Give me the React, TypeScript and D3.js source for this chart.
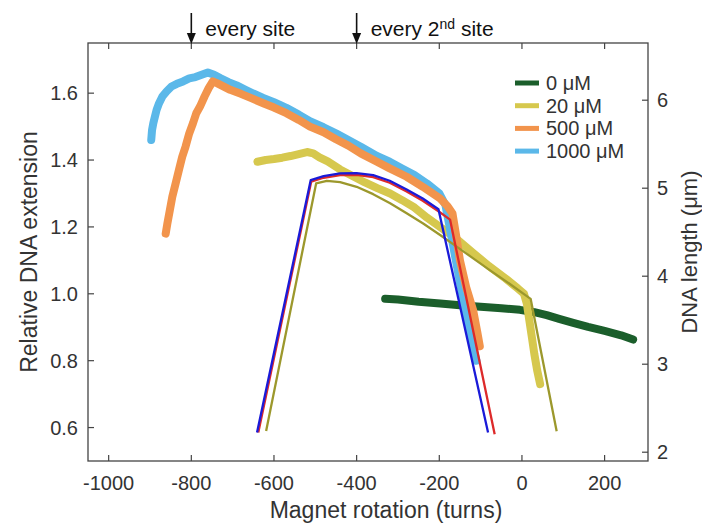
import React from "react";
import * as d3 from "d3";

type Pt = [number, number];

const xTicks = [-1000, -800, -600, -400, -200, 0, 200];
const yTicks = [0.6, 0.8, 1.0, 1.2, 1.4, 1.6];
const yRightTicks = [2, 3, 4, 5, 6];
const lengthPerUnit = 3.8;

const series0uM: Pt[] = [
  [-331, 0.985], [-300, 0.983], [-250, 0.976], [-198, 0.971], [-150, 0.966], [-100, 0.961],
  [-50, 0.957], [-5, 0.952], [30, 0.945], [60, 0.936], [90, 0.925], [124, 0.913],
  [160, 0.901], [200, 0.889], [240, 0.876], [269, 0.863],
];
const series20uM: Pt[] = [
  [-640, 1.395], [-620, 1.4], [-600, 1.403], [-580, 1.407], [-560, 1.412], [-540, 1.418],
  [-520, 1.424], [-505, 1.42], [-490, 1.408], [-470, 1.396], [-440, 1.372], [-410, 1.352],
  [-380, 1.333], [-350, 1.316], [-319, 1.3], [-290, 1.28], [-260, 1.258], [-230, 1.228],
  [-198, 1.2], [-160, 1.166], [-118, 1.122], [-80, 1.083], [-40, 1.046], [-10, 1.016],
  [5, 1.0], [12, 0.97], [18, 0.92], [24, 0.87], [30, 0.82], [37, 0.77], [44, 0.73],
];
const series500uM: Pt[] = [
  [-862, 1.18], [-858, 1.21], [-852, 1.25], [-846, 1.29], [-838, 1.33], [-830, 1.37],
  [-822, 1.41], [-814, 1.44], [-805, 1.48], [-796, 1.51], [-788, 1.54], [-779, 1.56],
  [-768, 1.59], [-758, 1.615], [-748, 1.635], [-738, 1.63], [-725, 1.622], [-706, 1.61],
  [-680, 1.598], [-655, 1.585], [-626, 1.57], [-600, 1.557], [-570, 1.54], [-540, 1.52],
  [-513, 1.5], [-480, 1.483], [-450, 1.462], [-420, 1.443], [-390, 1.42], [-351, 1.395],
  [-320, 1.375], [-279, 1.35], [-240, 1.32], [-198, 1.285], [-180, 1.262], [-168, 1.24],
  [-160, 1.18], [-150, 1.1], [-135, 1.02], [-118, 0.95], [-108, 0.885], [-102, 0.843],
];
const series1000uM: Pt[] = [
  [-897, 1.46], [-895, 1.49], [-892, 1.51], [-888, 1.53], [-884, 1.55], [-878, 1.57],
  [-870, 1.59], [-860, 1.605], [-848, 1.62], [-835, 1.628], [-820, 1.635], [-805, 1.644],
  [-790, 1.648], [-775, 1.655], [-760, 1.662], [-745, 1.655], [-730, 1.645], [-710, 1.633],
  [-690, 1.623], [-670, 1.611], [-650, 1.599], [-626, 1.586], [-600, 1.573], [-570, 1.556],
  [-540, 1.536], [-513, 1.516], [-480, 1.498], [-450, 1.48], [-420, 1.46], [-390, 1.44],
  [-351, 1.412], [-320, 1.395], [-290, 1.375], [-260, 1.355], [-230, 1.33], [-200, 1.3],
  [-185, 1.265], [-172, 1.18], [-160, 1.1], [-148, 1.02], [-136, 0.94], [-122, 0.86],
  [-110, 0.8],
];
const fitBlue: Pt[] = [
  [-641, 0.585], [-511, 1.34], [-480, 1.352], [-440, 1.36], [-400, 1.361], [-360, 1.355],
  [-320, 1.338], [-279, 1.312], [-240, 1.285], [-202, 1.253], [-82, 0.585],
];
const fitRed: Pt[] = [
  [-638, 0.585], [-510, 1.335], [-480, 1.347], [-440, 1.355], [-400, 1.356], [-360, 1.349],
  [-320, 1.332], [-279, 1.306], [-240, 1.278], [-202, 1.247], [-174, 1.222], [-66, 0.58],
];
const fitOlive: Pt[] = [
  [-619, 0.59], [-498, 1.33], [-472, 1.338], [-440, 1.334], [-400, 1.32], [-360, 1.298],
  [-319, 1.271], [-279, 1.241], [-239, 1.21], [-198, 1.176], [-158, 1.141], [-118, 1.106],
  [-77, 1.07], [-30, 1.03], [21, 0.985], [84, 0.589],
];

const legendLabels = ["0 μM", "20 μM", "500 μM", "1000 μM"];
const legendColors = ["#1b5e2b", "#d6c84e", "#f2944c", "#5bb8e9"];

const W = 702;
const H = 524;
const FONT = "'Liberation Sans', Arial, sans-serif";

export default function App() {
  const x = d3.scaleLinear().domain([-1050, 305]).range([88, 648]);
  const y = d3.scaleLinear().domain([0.5, 1.75]).range([461, 43]);
  const yR = d3.scaleLinear().domain([0.5 * lengthPerUnit, 1.75 * lengthPerUnit]).range([461, 43]);
  const line = d3.line<Pt>().x((d) => x(d[0])).y((d) => y(d[1]));
  const [x0, x1] = x.range();
  const [yb, yt] = y.range();
  const axisColor = "#444";
  const textColor = "#333";
  const tickLen = 6;

  const dataSeries = [
    { pts: series0uM, color: legendColors[0] },
    { pts: series20uM, color: legendColors[1] },
    { pts: series1000uM, color: legendColors[3] },
    { pts: series500uM, color: legendColors[2] },
  ];
  const fits = [
    { pts: fitOlive, color: "#9c982c" },
    { pts: fitRed, color: "#dd2a2a" },
    { pts: fitBlue, color: "#1a1ad8" },
  ];

  return (
    <div style={{ position: "absolute", left: 0, top: 0 }}>
      <svg width={W} height={H} style={{ display: "block", background: "#fff" }} fontFamily={FONT}>
        {dataSeries.map((s, i) => (
          <path key={"d" + i} d={line(s.pts) ?? ""} fill="none" stroke={s.color} strokeWidth={8}
            strokeLinecap="round" strokeLinejoin="round" />
        ))}
        {fits.map((s, i) => (
          <path key={"f" + i} d={line(s.pts) ?? ""} fill="none" stroke={s.color} strokeWidth={2.3}
            strokeLinejoin="round" />
        ))}
        {/* frame */}
        <rect x={x0} y={yt} width={x1 - x0} height={yb - yt} fill="none" stroke={axisColor} strokeWidth={1.3} />
        {xTicks.map((t) => (
          <g key={"xt" + t}>
            <line x1={x(t)} x2={x(t)} y1={yb} y2={yb - tickLen} stroke={axisColor} strokeWidth={1.2} />
            <line x1={x(t)} x2={x(t)} y1={yt} y2={yt + tickLen} stroke={axisColor} strokeWidth={1.2} />
            <text x={x(t)} y={yb + 29} textAnchor="middle" fontSize={20} fill={textColor}>{t}</text>
          </g>
        ))}
        {yTicks.map((t) => (
          <g key={"yt" + t}>
            <line x1={x0} x2={x0 + tickLen} y1={y(t)} y2={y(t)} stroke={axisColor} strokeWidth={1.2} />
            <text x={x0 - 10} y={y(t) + 7} textAnchor="end" fontSize={20} fill={textColor}>{t.toFixed(1)}</text>
          </g>
        ))}
        {yRightTicks.map((t) => (
          <g key={"yr" + t}>
            <line x1={x1} x2={x1 - tickLen} y1={yR(t)} y2={yR(t)} stroke={axisColor} strokeWidth={1.2} />
            <text x={x1 + 9} y={yR(t) + 7} textAnchor="start" fontSize={20} fill={textColor}>{t}</text>
          </g>
        ))}
        <text x={386} y={518} textAnchor="middle" fontSize={23} fill={textColor}>Magnet rotation (turns)</text>
        <text transform={`translate(37,${(yt + yb) / 2 + 0}) rotate(-90)`} textAnchor="middle" fontSize={23} fill={textColor}>Relative DNA extension</text>
        <text transform={`translate(697,${(yt + yb) / 2}) rotate(-90)`} textAnchor="middle" fontSize={22} fill={textColor}>DNA length (μm)</text>

        {/* legend */}
        {legendLabels.map((l, i) => (
          <g key={"lg" + i}>
            <line x1={515} x2={539} y1={83 + i * 22.7} y2={83 + i * 22.7} stroke={legendColors[i]} strokeWidth={5} />
            <text x={546} y={83 + i * 22.7 + 7} fontSize={20} fill={textColor}>{l}</text>
          </g>
        ))}

        {/* annotations */}
        {[{ t: -800 }, { t: -400 }].map((a, i) => (
          <g key={"an" + i}>
            <line x1={x(a.t)} x2={x(a.t)} y1={13} y2={38} stroke="#111" strokeWidth={1.6} />
            <path d={`M${x(a.t) - 4.5},${33} L${x(a.t)},${44} L${x(a.t) + 4.5},${33} Z`} fill="#111" />
            <text x={x(a.t) + 14} y={36} fontSize={21} fill="#111">
              {i === 0 ? "every site" : (<>every 2<tspan dy={-7} fontSize={14}>nd</tspan><tspan dy={7}> site</tspan></>)}
            </text>
          </g>
        ))}
      </svg>
    </div>
  );
}
